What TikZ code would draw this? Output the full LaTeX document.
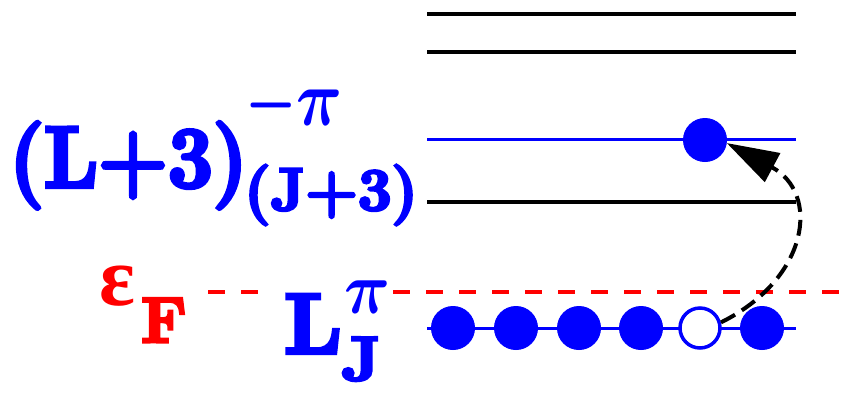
\RequirePackage{fix-cm}
\documentclass[tikz,border=0pt]{standalone}
\usepackage{graphicx}
\usepackage{fontspec}
\newfontfamily\heavyfont{Latin Modern Roman}[FakeBold=5]
\newfontfamily\grkfont{Liberation Serif}
\usetikzlibrary{arrows.meta}
\definecolor{lvlblue}{RGB}{0,0,255}
\definecolor{lvlred}{RGB}{255,0,0}
\tikzset{
  level/.style={line width=3.5pt, black},
  bluelevel/.style={line width=3pt, lvlblue},
  fermi/.style={line width=3.5pt, lvlred, dash pattern=on 17pt off 16pt},
  occ/.style={circle, fill=lvlblue, draw=lvlblue, line width=1pt, minimum size=43pt, inner sep=0pt},
  hole/.style={circle, fill=white, draw=lvlblue, line width=3.5pt, minimum size=40pt, inner sep=0pt},
  jump/.style={line width=4pt, black, dash pattern=on 16pt off 8pt, -{Triangle[length=52pt,width=32pt]}},
  lbl/.style={inner sep=0pt, anchor=base west},
}
\begin{document}
\begin{tikzpicture}[x=1pt,y=-1pt]
\useasboundingbox (0,0) rectangle (844,392);
% levels
\draw[level] (427,14) -- (796,14);
\draw[level] (427,52) -- (796,52);
\draw[bluelevel] (427,139) -- (796,139);
\draw[level] (427,202) -- (796,202);
\draw[bluelevel] (427,328) -- (796,328);
% Fermi level
\draw[fermi] (208,292) -- (262,292);
\draw[fermi] (393,292) -- (844,292);
% particles
\node[occ] (c1) at (453,328) {};
\node[occ] (c2) at (516,328) {};
\node[occ] (c3) at (579,328) {};
\node[occ] (c4) at (641,328) {};
\node[hole] (c5) at (700,328) {};
\node[occ] (c6) at (762,328) {};
\node[occ] (u) at (705,140) {};
\draw[jump] (c5.15) .. controls (810,278) and (820,193) .. (u.-8);
% labels
\node[lbl, lvlblue] (l3) at (9,187) {\scalebox{1.05}[1.14]{\fontsize{76}{76}\selectfont\heavyfont\bfseries (L+3)}};
\node[lbl, lvlblue] (l3sup) at (245,125) {\scalebox{1}[1.25]{\fontsize{64}{64}\selectfont\boldmath$\scalebox{0.9}[1]{$-$}\pi$}};
\node[lbl, lvlblue] (l3sub) at (244,210) {\fontsize{60}{60}\selectfont\heavyfont\bfseries (J+3)};
\node[lbl, lvlblue] (lj) at (284,353) {\fontsize{85}{85}\selectfont\heavyfont\bfseries L};
\node[lbl, lvlblue] (ljsup) at (344,313) {\scalebox{1}[1.15]{\fontsize{64}{64}\selectfont\boldmath$\pi$}};
\node[lbl, lvlblue] (ljsub) at (341,380) {\scalebox{1.1}[1]{\fontsize{62}{62}\selectfont\heavyfont\bfseries J}};
\node[lbl, lvlred] (ef) at (99,305) {\fontsize{84}{84}\selectfont\grkfont\bfseries ε};
\node[lbl, lvlred] (efsub) at (141,342) {\fontsize{64}{64}\selectfont\heavyfont\bfseries F};
\end{tikzpicture}
\end{document}
